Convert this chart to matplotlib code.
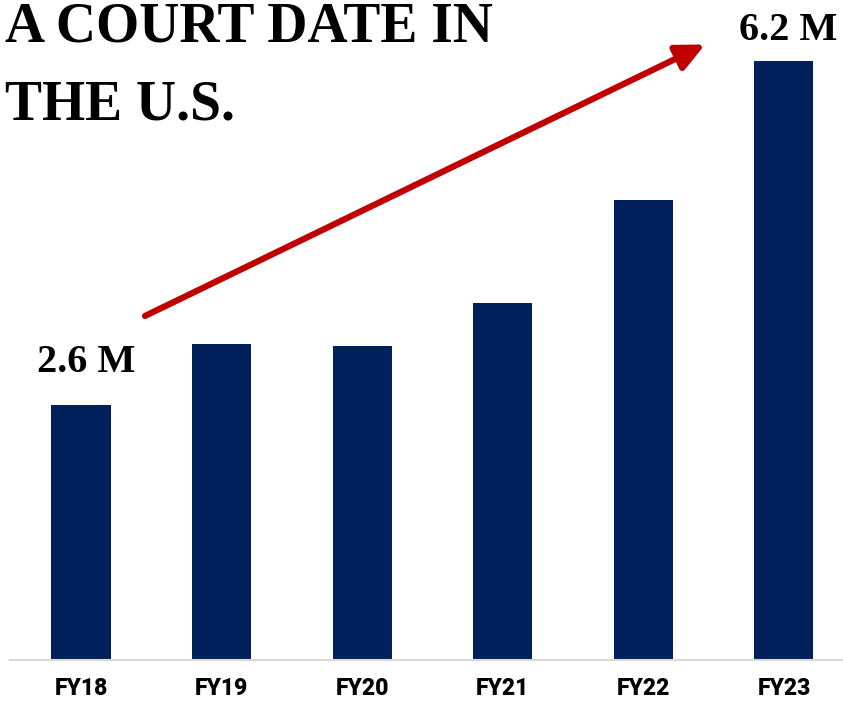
import matplotlib.pyplot as plt

# Data (millions)
years = ["FY18", "FY19", "FY20", "FY21", "FY22", "FY23"]
values = [2.64, 3.27, 3.25, 3.69, 4.76, 6.2]
first_label = "2.6 M"
last_label = "6.2 M"

NAVY = "#00205B"
RED = "#C00000"

fig = plt.figure(figsize=(8.43, 7.02), dpi=100)
ax = fig.add_axes([10 / 843, 42 / 702, 833 / 843, 660 / 702])

x = range(len(years))
ax.bar(x, values, width=0.42, color=NAVY, zorder=2)

ax.set_xlim(-0.505, 5.42)
ax.set_ylim(0, 6.83)

for s in ["top", "right", "left"]:
    ax.spines[s].set_visible(False)
ax.spines["bottom"].set_color("#D9D9D9")
ax.spines["bottom"].set_linewidth(1.5)
ax.set_yticks([])
ax.set_xticks(list(x))
ax.set_xticklabels(years, fontsize=16.5, fontweight="heavy",
                   family=["Roboto", "DejaVu Sans"])
ax.tick_params(axis="x", length=0, pad=12)

# value labels on first and last bars
serif = ["Liberation Serif", "DejaVu Serif"]
ax.text(0.04, values[0] + 0.34, first_label, ha="center", va="baseline",
        fontsize=29, fontweight="bold", family=serif)
ax.text(5.03, values[-1] + 0.22, last_label, ha="center", va="baseline",
        fontsize=29, fontweight="bold", family=serif)

# trend arrow
ax.annotate("", xy=(4.44, 6.37), xytext=(0.455, 3.56),
            arrowprops=dict(arrowstyle="-|>,head_length=1.7,head_width=0.8",
                            color=RED, lw=4.5, shrinkA=0, shrinkB=0))

# title
fig.text(5 / 843, 1 - 42 / 702, "A COURT DATE IN", ha="left", va="baseline",
         fontsize=40, fontweight="bold", family=serif)
fig.text(5 / 843, 1 - 120 / 702, "THE U.S.", ha="left", va="baseline",
         fontsize=40, fontweight="bold", family=serif)

fig.savefig("out.png", dpi=100)
